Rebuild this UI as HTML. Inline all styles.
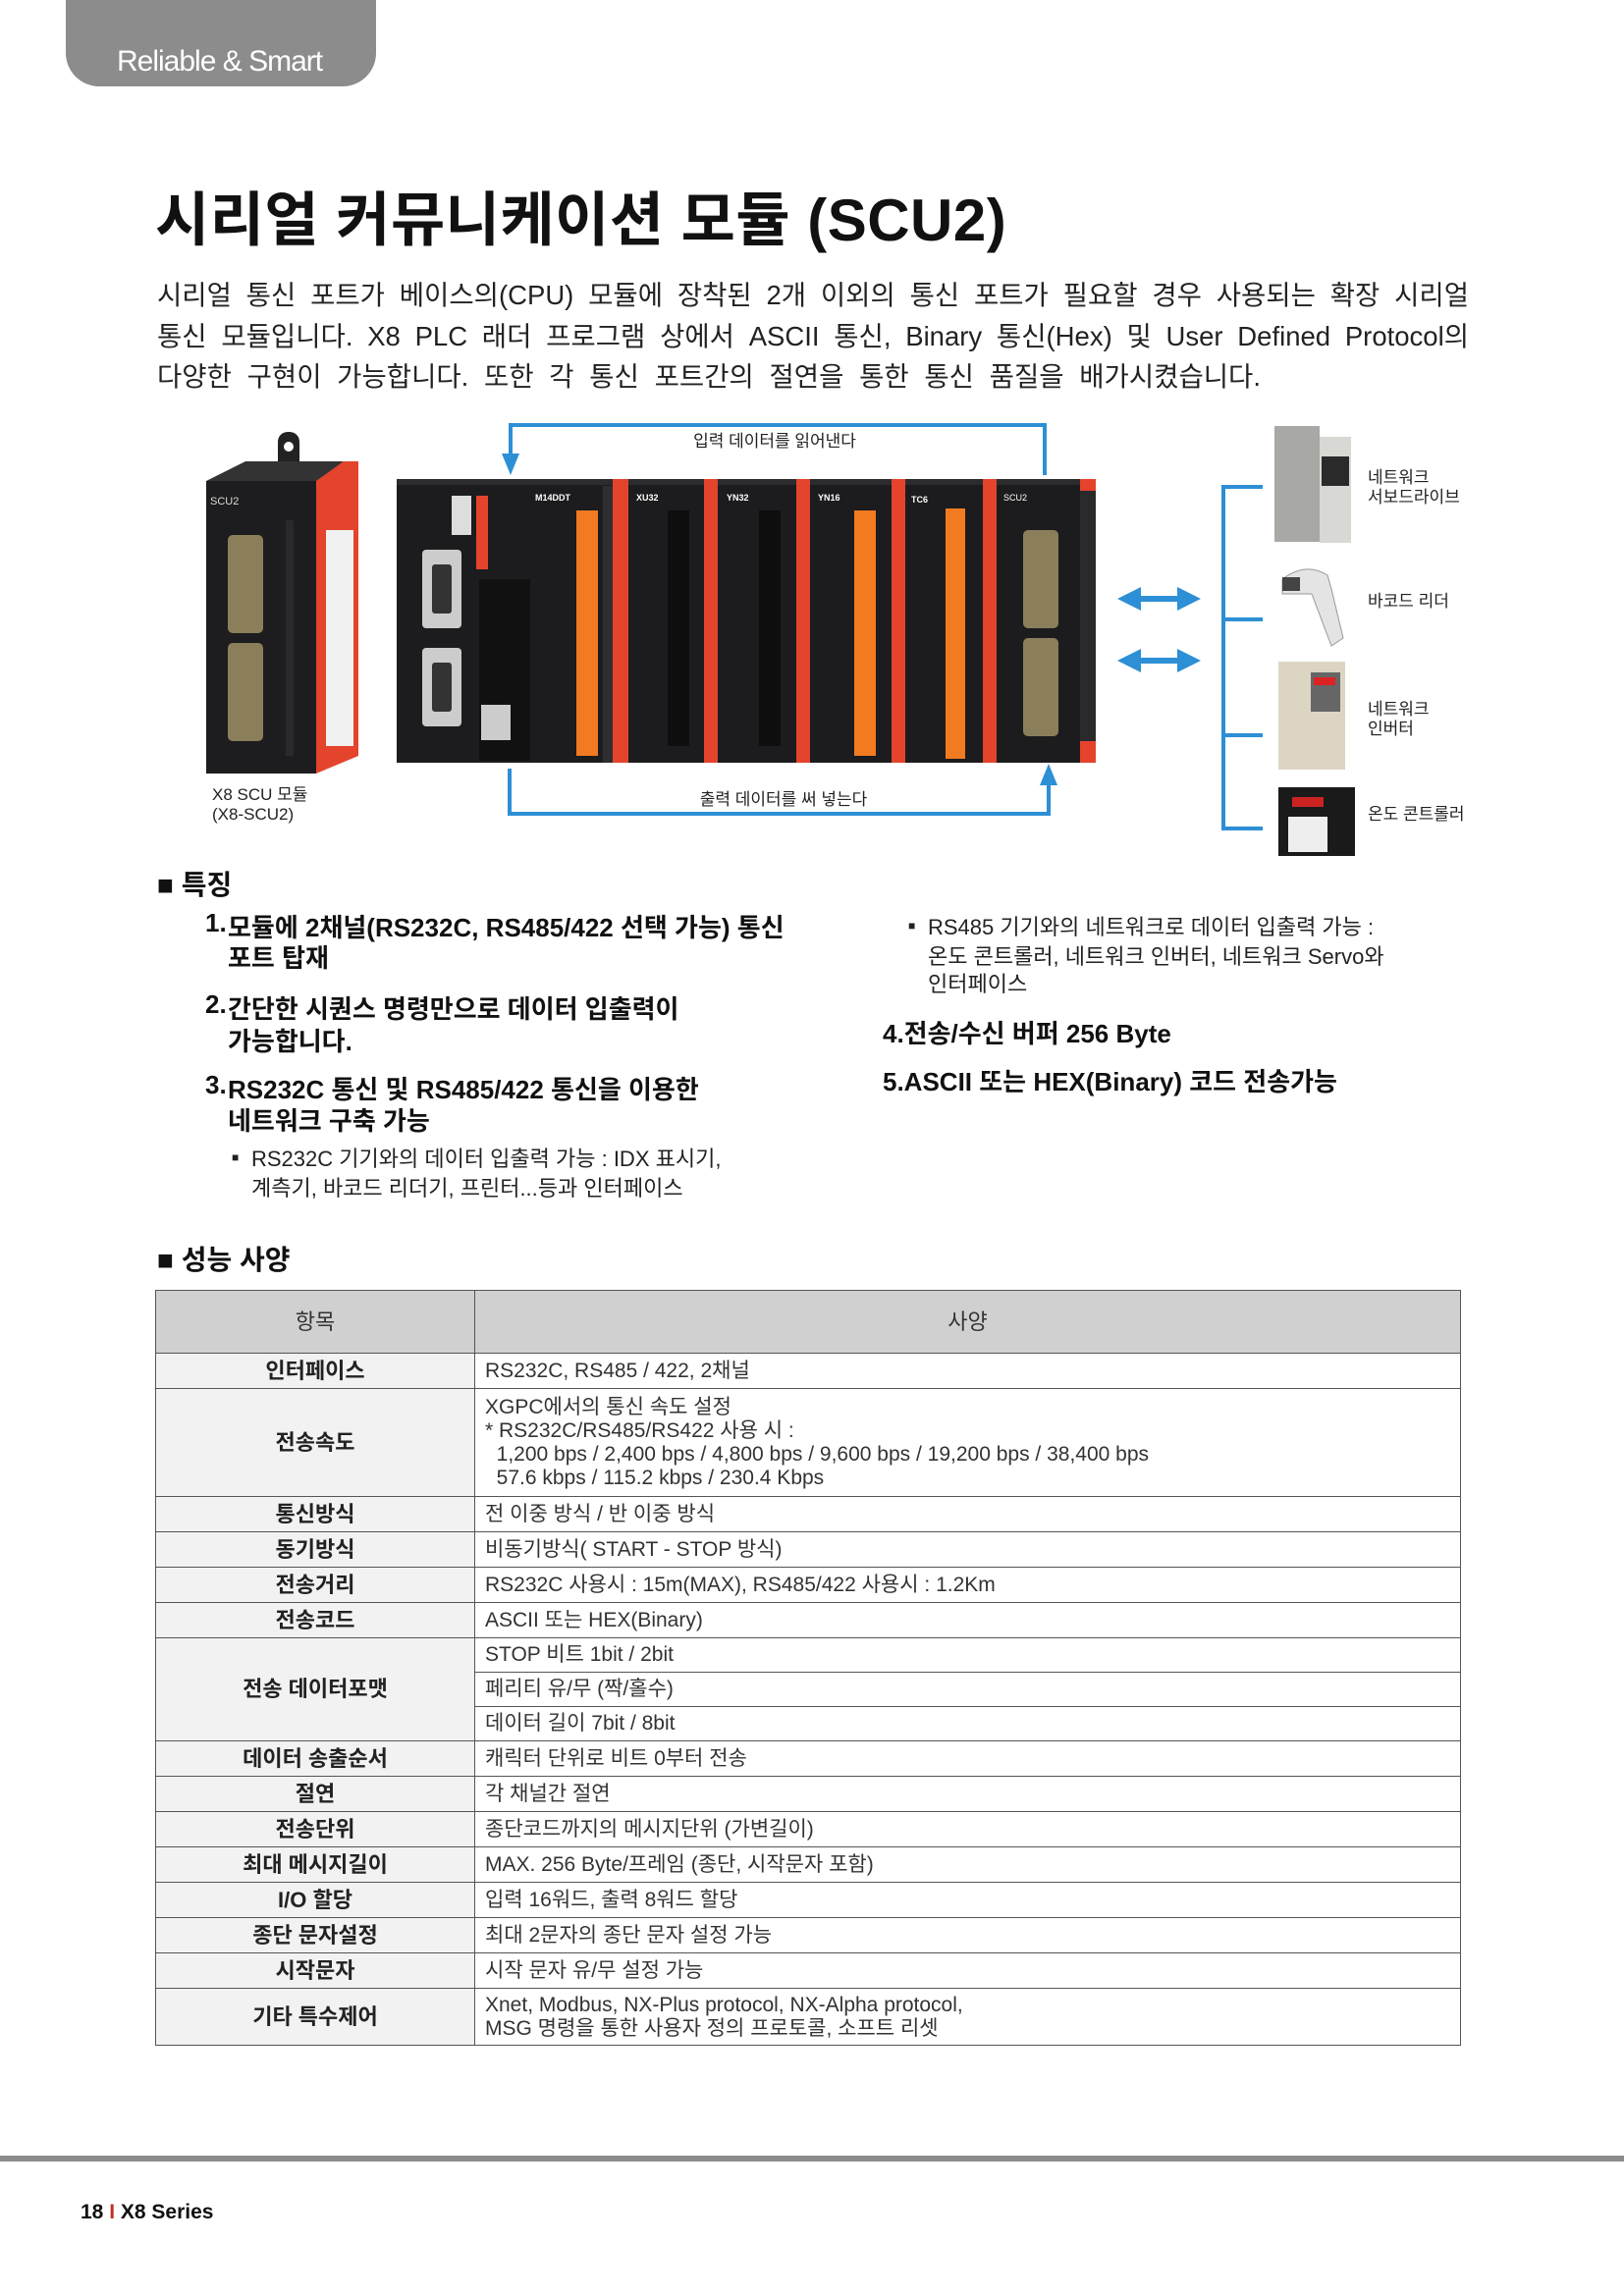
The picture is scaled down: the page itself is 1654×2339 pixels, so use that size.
<!DOCTYPE html>
<html><head><meta charset="utf-8">
<style>
*{margin:0;padding:0;box-sizing:border-box}
body{width:1654px;height:2339px;position:relative;background:#fff;font-family:"Liberation Sans","Noto Sans CJK KR",sans-serif;color:#111;overflow:hidden}
.a{position:absolute;white-space:nowrap}
.tab{position:absolute;left:67px;top:0;width:316px;height:88px;background:#8c8c8c;border-radius:0 0 34px 34px}
.tab span{position:absolute;left:52px;top:46px;color:#fff;font-size:30px;letter-spacing:-1px}
h1{position:absolute;left:158px;top:176px;font-size:60px;font-weight:bold;letter-spacing:0.5px;white-space:nowrap}
.p{position:absolute;left:160px;font-size:27.5px;color:#222;white-space:nowrap;text-align:justify;text-align-last:justify}
.f{font-size:26px;font-weight:bold}
.s{font-size:22px;color:#222}
table{position:absolute;left:158px;top:1314px;width:1330px;border-collapse:collapse;font-size:21px}
td{border:1.5px solid #555;height:36px;padding:0 0 0 10px;color:#333;line-height:24px}
td.k{background:#f3f2f2;font-weight:bold;text-align:center;padding:0;width:325px;font-size:22px;color:#222}
tr.h td{background:#d0d0d0;height:64px;text-align:center;font-size:22px;color:#333}
</style></head><body>
<div class="tab"><span>Reliable &amp; Smart</span></div>
<h1>시리얼 커뮤니케이션 모듈 (SCU2)</h1>
<div class="p" style="top:278px;width:1336px">시리얼 통신 포트가 베이스의(CPU) 모듈에 장착된 2개 이외의 통신 포트가 필요할 경우 사용되는 확장 시리얼</div>
<div class="p" style="top:320px;width:1336px">통신 모듈입니다. X8 PLC 래더 프로그램 상에서 ASCII 통신, Binary 통신(Hex) 및 User Defined Protocol의</div>
<div class="p" style="top:361px;width:1124px">다양한 구현이 가능합니다. 또한 각 통신 포트간의 절연을 통한 통신 품질을 배가시켰습니다.</div>

<svg class="a" style="left:0;top:420px" width="1654" height="460" viewBox="0 420 1654 460">
<rect x="283" y="440" width="22" height="40" rx="10" fill="#222"/>
<circle cx="294" cy="455" r="5" fill="#fff"/>
<polygon points="210,490 250,470 350,470 325,490" fill="#333"/>
<rect x="210" y="490" width="112" height="298" fill="#1d1d1f"/>
<polygon points="322,490 350,470 365,470 365,770 322,788" fill="#e4432c"/>
<rect x="332" y="540" width="28" height="220" fill="#f1f1f1"/>
<text x="214" y="514" font-size="11" fill="#ddd">SCU2</text>
<rect x="232" y="545" width="36" height="100" rx="5" fill="#8a7f5a"/>
<rect x="232" y="655" width="36" height="100" rx="5" fill="#8a7f5a"/>
<rect x="291" y="530" width="8" height="240" fill="#2a2a2c"/>
<text x="216" y="815" font-size="17" fill="#222">X8 SCU 모듈</text>
<text x="216" y="835" font-size="17" fill="#222">(X8-SCU2)</text>
<rect x="404" y="488" width="712" height="289" fill="#1c1c1e"/>
<rect x="404" y="488" width="712" height="6" fill="#2c2c2e"/>
<rect x="460" y="505" width="20" height="40" fill="#ddd"/>
<rect x="485" y="505" width="12" height="75" fill="#e4432c"/>
<rect x="430" y="560" width="40" height="80" rx="4" fill="#ccc"/>
<rect x="430" y="660" width="40" height="80" rx="4" fill="#ccc"/>
<rect x="440" y="575" width="20" height="50" rx="3" fill="#333"/>
<rect x="440" y="675" width="20" height="50" rx="3" fill="#333"/>
<rect x="488" y="590" width="52" height="185" fill="#111"/>
<rect x="490" y="718" width="30" height="36" fill="#ccc"/>
<text x="545" y="510" font-size="9" fill="#fff" font-weight="bold">M14DDT</text>
<rect x="587" y="520" width="22" height="250" fill="#f27b22"/>
<rect x="614" y="495" width="18" height="282" fill="#2e2e30"/>
<rect x="624" y="488" width="16" height="289" fill="#e4432c"/>
<text x="648" y="510" font-size="9" fill="#fff" font-weight="bold">XU32</text>
<rect x="680" y="520" width="22" height="240" fill="#0e0e0e"/>
<rect x="717" y="488" width="14" height="289" fill="#e4432c"/>
<text x="740" y="510" font-size="9" fill="#fff" font-weight="bold">YN32</text>
<rect x="773" y="520" width="22" height="240" fill="#0e0e0e"/>
<rect x="811" y="488" width="14" height="289" fill="#e4432c"/>
<text x="833" y="510" font-size="9" fill="#fff" font-weight="bold">YN16</text>
<rect x="870" y="520" width="22" height="250" fill="#f27b22"/>
<rect x="908" y="488" width="14" height="289" fill="#e4432c"/>
<text x="928" y="512" font-size="9" fill="#fff" font-weight="bold">TC6</text>
<rect x="963" y="518" width="20" height="255" fill="#f27b22"/>
<rect x="1001" y="488" width="14" height="289" fill="#e4432c"/>
<text x="1022" y="510" font-size="9" fill="#fff">SCU2</text>
<rect x="1042" y="540" width="36" height="100" rx="5" fill="#8a7f5a"/>
<rect x="1042" y="650" width="36" height="100" rx="5" fill="#8a7f5a"/>
<rect x="1100" y="488" width="16" height="289" fill="#e4432c"/>
<rect x="1100" y="500" width="16" height="255" fill="#2a2a2c"/>
<g stroke="#2d8fd5" stroke-width="4" fill="none">
<polyline points="520,476 520,433 1064,433 1064,484"/>
<polyline points="519,783 519,829 1068,829 1068,798"/>
</g>
<polygon points="511,462 529,462 520,484" fill="#2d8fd5"/>
<polygon points="1059,800 1077,800 1068,778" fill="#2d8fd5"/>
<text x="789" y="455" font-size="17" fill="#222" text-anchor="middle">입력 데이터를 읽어낸다</text>
<text x="798" y="820" font-size="17" fill="#222" text-anchor="middle">출력 데이터를 써 넣는다</text>
<g fill="#2d8fd5">
<rect x="1150" y="607" width="60" height="6"/><polygon points="1138,610 1162,598 1162,622"/><polygon points="1223,610 1199,598 1199,622"/>
<rect x="1150" y="670" width="60" height="6"/><polygon points="1138,673 1162,661 1162,685"/><polygon points="1223,673 1199,661 1199,685"/>
</g>
<g stroke="#2d8fd5" stroke-width="4" fill="none">
<polyline points="1286,496 1246,496 1246,844 1286,844"/>
<line x1="1246" y1="631" x2="1286" y2="631"/>
<line x1="1246" y1="749" x2="1286" y2="749"/>
</g>
<rect x="1298" y="434" width="46" height="118" fill="#a8a8a4"/><rect x="1344" y="445" width="32" height="108" fill="#d8d8d4"/><rect x="1346" y="465" width="28" height="30" fill="#2a2a2a"/>
<path d="M1306,590 Q1330,572 1352,586 L1356,600 L1368,650 L1356,658 L1336,605 L1306,605 Z" fill="#e4e4e4" stroke="#999"/>
<rect x="1306" y="588" width="18" height="14" fill="#444"/>
<rect x="1302" y="674" width="68" height="110" fill="#ddd5c4"/><rect x="1335" y="685" width="30" height="40" fill="#666"/><rect x="1338" y="690" width="22" height="8" fill="#d22"/>
<rect x="1302" y="802" width="78" height="70" fill="#1a1a1a"/><rect x="1316" y="812" width="32" height="10" fill="#c22"/><rect x="1312" y="832" width="40" height="36" fill="#eee"/>
<g font-size="17" fill="#222">
<text x="1393" y="492">네트워크</text><text x="1393" y="512">서보드라이브</text>
<text x="1393" y="618">바코드 리더</text>
<text x="1393" y="728">네트워크</text><text x="1393" y="748">인버터</text>
<text x="1393" y="835">온도 콘트롤러</text>
</g>
</svg>

<div class="a" style="left:160px;top:880px;font-size:28px;font-weight:bold">■ 특징</div>
<div class="a f" style="left:209px;top:925px">1.</div><div class="a f" style="left:232px;top:925px">모듈에 2채널(RS232C, RS485/422 선택 가능) 통신</div>
<div class="a f" style="left:232px;top:956px">포트 탑재</div>
<div class="a f" style="left:209px;top:1008px">2.</div><div class="a f" style="left:232px;top:1008px">간단한 시퀀스 명령만으로 데이터 입출력이</div>
<div class="a f" style="left:232px;top:1041px">가능합니다.</div>
<div class="a f" style="left:209px;top:1090px">3.</div><div class="a f" style="left:232px;top:1090px">RS232C 통신 및 RS485/422 통신을 이용한</div>
<div class="a f" style="left:232px;top:1122px">네트워크 구축 가능</div>
<div class="a s" style="left:236px;font-size:12px;top:1172px">■</div>
<div class="a s" style="left:256px;top:1163px">RS232C 기기와의 데이터 입출력 가능 : IDX 표시기,</div>
<div class="a s" style="left:256px;top:1193px">계측기, 바코드 리더기, 프린터...등과 인터페이스</div>

<div class="a s" style="left:925px;top:936px;font-size:12px">■</div>
<div class="a s" style="left:945px;top:927px">RS485 기기와의 네트워크로 데이터 입출력 가능 :</div>
<div class="a s" style="left:945px;top:957px">온도 콘트롤러, 네트워크 인버터, 네트워크 Servo와</div>
<div class="a s" style="left:945px;top:985px">인터페이스</div>
<div class="a f" style="left:899px;top:1033px">4.전송/수신 버퍼 256 Byte</div>
<div class="a f" style="left:899px;top:1082px">5.ASCII 또는 HEX(Binary) 코드 전송가능</div>

<div class="a" style="left:160px;top:1262px;font-size:28px;font-weight:bold">■ 성능 사양</div>

<table>
<tr class="h"><td class="k" style="font-weight:normal;background:#d0d0d0">항목</td><td style="padding:0">사양</td></tr>
<tr><td class="k">인터페이스</td><td>RS232C, RS485 / 422, 2채널</td></tr>
<tr><td class="k" style="height:110px">전송속도</td><td>XGPC에서의 통신 속도 설정<br>* RS232C/RS485/RS422 사용 시 :<br>&nbsp;&nbsp;1,200 bps / 2,400 bps / 4,800 bps / 9,600 bps / 19,200 bps / 38,400 bps<br>&nbsp;&nbsp;57.6 kbps / 115.2 kbps / 230.4 Kbps</td></tr>
<tr><td class="k">통신방식</td><td>전 이중 방식 / 반 이중 방식</td></tr>
<tr><td class="k">동기방식</td><td>비동기방식( START - STOP 방식)</td></tr>
<tr><td class="k">전송거리</td><td>RS232C 사용시 : 15m(MAX), RS485/422 사용시 : 1.2Km</td></tr>
<tr><td class="k">전송코드</td><td>ASCII 또는 HEX(Binary)</td></tr>
<tr><td class="k" rowspan="3">전송 데이터포맷</td><td style="height:35px">STOP 비트 1bit / 2bit</td></tr>
<tr><td style="height:35px">페리티 유/무 (짝/홀수)</td></tr>
<tr><td style="height:35px">데이터 길이 7bit / 8bit</td></tr>
<tr><td class="k">데이터 송출순서</td><td>캐릭터 단위로 비트 0부터 전송</td></tr>
<tr><td class="k">절연</td><td>각 채널간 절연</td></tr>
<tr><td class="k">전송단위</td><td>종단코드까지의 메시지단위 (가변길이)</td></tr>
<tr><td class="k">최대 메시지길이</td><td>MAX. 256 Byte/프레임 (종단, 시작문자 포함)</td></tr>
<tr><td class="k">I/O 할당</td><td>입력 16워드, 출력 8워드 할당</td></tr>
<tr><td class="k">종단 문자설정</td><td>최대 2문자의 종단 문자 설정 가능</td></tr>
<tr><td class="k">시작문자</td><td>시작 문자 유/무 설정 가능</td></tr>
<tr><td class="k" style="height:58px">기타 특수제어</td><td>Xnet, Modbus, NX-Plus protocol, NX-Alpha protocol,<br>MSG 명령을 통한 사용자 정의 프로토콜, 소프트 리셋</td></tr>
</table>

<div class="a" style="left:0;top:2196px;width:1654px;height:6px;background:#8c8c8c"></div>
<div class="a" style="left:82px;top:2242px;font-size:21px;font-weight:bold">18 <span style="color:#c0302a">I</span> X8 Series</div>
</body></html>
